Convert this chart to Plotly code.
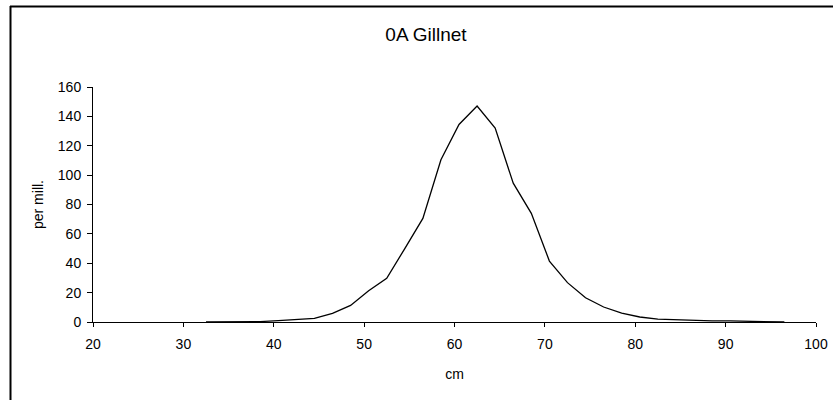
import plotly.graph_objects as go

# Data
length_cm = [32.5, 34.5, 36.5, 38.5, 40.5, 42.5, 44.5, 46.5, 48.5, 50.5,
             52.5, 54.5, 56.5, 58.5, 60.5, 62.5, 64.5, 66.5, 68.5, 70.5,
             72.5, 74.5, 76.5, 78.5, 80.5, 82.5, 84.5, 86.5, 88.5, 90.5,
             92.5, 94.5, 96.5]
per_mill = [0.1, 0.1, 0.2, 0.3, 0.9, 1.7, 2.5, 5.9, 11.3, 21.3,
            29.7, 50.0, 70.5, 110.5, 134.5, 147.0, 132.0, 94.5, 74.0, 41.5,
            26.8, 16.5, 10.2, 6.0, 3.4, 2.0, 1.4, 0.9, 0.7, 0.7,
            0.6, 0.2, 0.05]
x_ticks = [20, 30, 40, 50, 60, 70, 80, 90, 100]
y_ticks = [0, 20, 40, 60, 80, 100, 120, 140, 160]

FONT = "Arial, Liberation Sans, sans-serif"

fig = go.Figure()
fig.add_trace(go.Scatter(x=length_cm, y=per_mill, mode="lines",
                         line=dict(color="black", width=1.3),
                         showlegend=False, hoverinfo="skip"))

# plot area pixels: x 93..816, y 87..322
L, R, T, B = 93, 17, 87, 78
W, H = 833, 400
pw, ph = W - L - R, H - T - B

def px_to_paper_x(px):
    return (px - L) / pw

def px_to_paper_y(py):
    return (H - B - py) / ph

# outer chart frame (top and left edges visible)
fig.add_shape(type="line", xref="paper", yref="paper",
              x0=px_to_paper_x(10), x1=px_to_paper_x(834),
              y0=px_to_paper_y(6.5), y1=px_to_paper_y(6.5),
              line=dict(color="black", width=2))
fig.add_shape(type="line", xref="paper", yref="paper",
              x0=px_to_paper_x(10.5), x1=px_to_paper_x(10.5),
              y0=px_to_paper_y(6), y1=px_to_paper_y(401),
              line=dict(color="black", width=2))

fig.update_layout(
    width=W, height=H,
    margin=dict(l=L, r=R, t=T, b=B, pad=0),
    paper_bgcolor="white", plot_bgcolor="white",
    font=dict(family=FONT, size=14, color="black"),
    title=dict(text="0A Gillnet", x=426 / W, xref="container", xanchor="center",
               y=1 - 34 / H, yref="container", yanchor="middle",
               font=dict(family=FONT, size=19, color="black")),
    xaxis=dict(range=[20, 100], tickvals=x_ticks, ticktext=[str(v) for v in x_ticks],
               showgrid=False, zeroline=False, showline=True, linecolor="black",
               linewidth=1, ticks="outside", ticklen=4, tickcolor="black",
               tickfont=dict(size=14), automargin=False, ticklabelstandoff=5,
               title=dict(text="cm", standoff=18, font=dict(size=14))),
    yaxis=dict(range=[0, 160], tickvals=y_ticks, ticktext=[str(v) for v in y_ticks],
               showgrid=False, zeroline=False, showline=True, linecolor="black",
               linewidth=1, ticks="outside", ticklen=5, tickcolor="black",
               tickfont=dict(size=14), automargin=False, ticklabelstandoff=3,
               title=dict(text="per mill.", standoff=10, font=dict(size=14))),
)

fig.write_html("out.html")
